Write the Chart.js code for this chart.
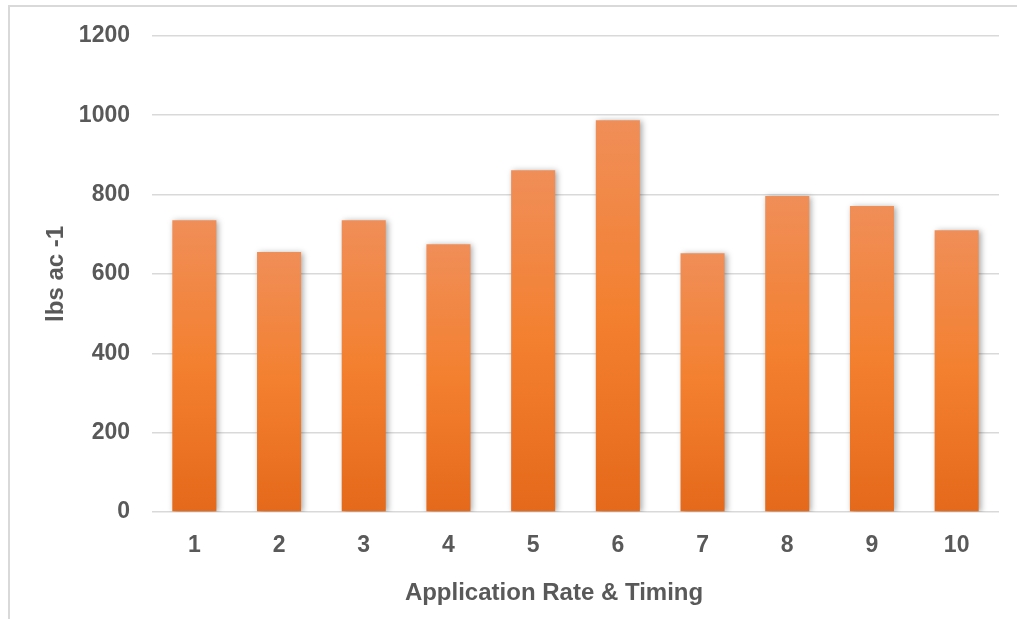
<!DOCTYPE html>
<html lang="en">
<head>
    <meta charset="UTF-8">
    <title>Application Rate & Timing</title>
    <script src="https://cdn.jsdelivr.net/npm/chart.js@4.4.1/dist/chart.umd.min.js"></script>
    <style>
        * {
            margin: 0;
            padding: 0;
            box-sizing: border-box;
        }

        body {
            background: #ffffff;
            width: 1017px;
            height: 619px;
            overflow: hidden;
            position: relative;
        }

        .frame {
            position: absolute;
            left: 8px;
            top: 5px;
            width: 1100px;
            height: 700px;
            border: 2px solid #d9d9d9;
        }

        .chart-box {
            position: absolute;
            left: 0;
            top: 0;
            width: 1017px;
            height: 619px;
        }
    </style>
</head>
<body>
    <div class="frame"></div>
    <div class="chart-box">
        <canvas id="rateChart"></canvas>
    </div>

    <script>
        // Chart data
        const categories = ['1', '2', '3', '4', '5', '6', '7', '8', '9', '10'];
        const yieldValues = [735, 655, 735, 675, 861, 987, 652, 796, 771, 710];
        const yTicks = [0, 200, 400, 600, 800, 1000, 1200];
        const xTitle = 'Application Rate & Timing';
        const yTitle = 'lbs ac -1';

        const textColor = '#595959';
        const gridColor = '#d9d9d9';
        const fontFamily = '"Liberation Sans", Arial, sans-serif';

        // Gradient per bar: light at the top, darker at the base
        function barGradient(context) {
            const chart = context.chart;
            const yScale = chart.scales.y;
            if (!chart.chartArea || !yScale || context.raw === undefined) {
                return '#f37f34';
            }
            const top = yScale.getPixelForValue(context.raw);
            const base = yScale.getPixelForValue(0);
            const grad = chart.ctx.createLinearGradient(0, top, 0, base);
            grad.addColorStop(0, '#f08e58');
            grad.addColorStop(0.5, '#f3802f');
            grad.addColorStop(1, '#e5691a');
            return grad;
        }

        // Soft shadow behind the bars
        const barShadow = {
            id: 'barShadow',
            beforeDatasetsDraw(chart) {
                const ctx = chart.ctx;
                ctx.save();
                ctx.shadowColor = 'rgba(0, 0, 0, 0.35)';
                ctx.shadowBlur = 6;
                ctx.shadowOffsetX = 2;
                ctx.shadowOffsetY = 1;
            },
            afterDatasetsDraw(chart) {
                chart.ctx.restore();
            }
        };

        // x axis title, centred a bit left of the plot centre like the original
        const xTitlePlugin = {
            id: 'xTitlePlugin',
            afterDraw(chart) {
                const ctx = chart.ctx;
                ctx.save();
                ctx.font = 'bold 24px ' + fontFamily;
                ctx.fillStyle = textColor;
                ctx.textAlign = 'center';
                ctx.textBaseline = 'middle';
                ctx.fillText(xTitle, 554, 593);
                ctx.restore();
            }
        };

        const ctx = document.getElementById('rateChart').getContext('2d');

        new Chart(ctx, {
            type: 'bar',
            data: {
                labels: categories,
                datasets: [{
                    label: yTitle,
                    data: yieldValues,
                    backgroundColor: barGradient,
                    borderWidth: 0,
                    barPercentage: 0.52,
                    categoryPercentage: 1.0
                }]
            },
            plugins: [barShadow, xTitlePlugin],
            options: {
                responsive: true,
                maintainAspectRatio: false,
                animation: false,
                layout: {
                    padding: { top: 35, right: 18, bottom: 0, left: 0 }
                },
                plugins: {
                    legend: { display: false },
                    tooltip: { enabled: false }
                },
                scales: {
                    x: {
                        grid: { display: false },
                        border: { display: false },
                        ticks: {
                            color: textColor,
                            padding: 12,
                            font: { family: fontFamily, size: 23, weight: 'bold' }
                        },
                        afterFit(scale) {
                            scale.height = 107;
                        }
                    },
                    y: {
                        min: 0,
                        max: 1200,
                        afterBuildTicks(scale) {
                            scale.ticks = yTicks.map(v => ({ value: v }));
                        },
                        grid: {
                            color: gridColor,
                            lineWidth: 1.5,
                            drawTicks: false
                        },
                        border: { display: false },
                        ticks: {
                            color: textColor,
                            padding: 22,
                            font: { family: fontFamily, size: 23, weight: 'bold' },
                            callback: (value) => String(value)
                        },
                        title: {
                            display: true,
                            text: yTitle,
                            color: textColor,
                            padding: { top: 42, bottom: 0 },
                            font: { family: fontFamily, size: 24, weight: 'bold' }
                        },
                        afterFit(scale) {
                            scale.width = 152;
                        }
                    }
                }
            }
        });
    </script>
</body>
</html>
